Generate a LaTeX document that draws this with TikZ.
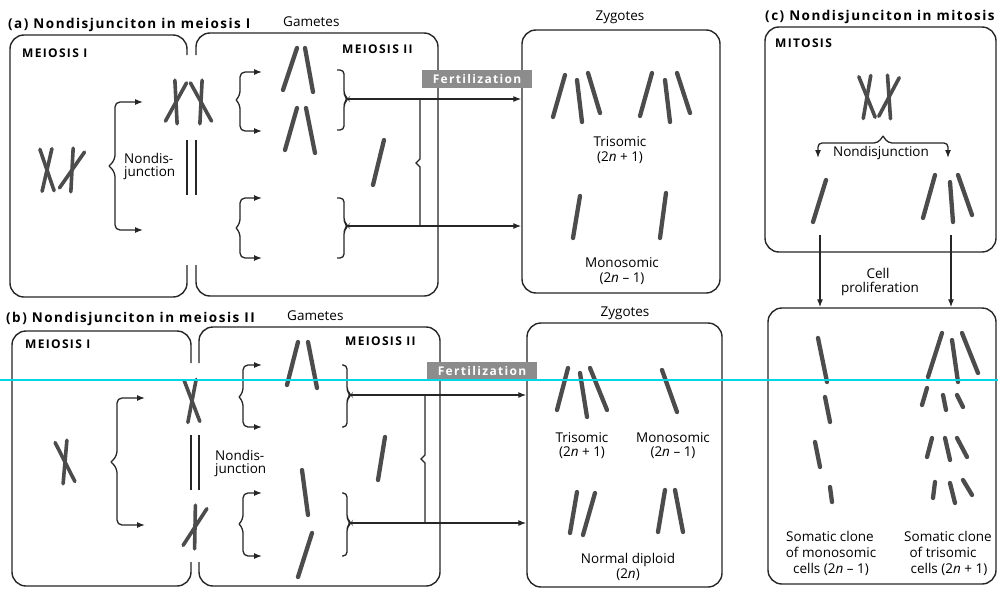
\documentclass[tikz,border=0pt]{standalone}
\usepackage{fontspec}
\setmainfont{Open Sans}
\newfontfamily\labelfont[LetterSpace=11]{Open Sans}
\usetikzlibrary{arrows.meta}

\begin{document}
\begin{tikzpicture}[x=1pt,y=-1pt,
  frame/.style={draw=black!85, line width=1.4pt, rounded corners=14pt},
  wire/.style={draw=black!85, line width=1.3pt},
  arr/.style={wire, -{Latex[length=8pt,width=6pt]}},
  rod/.style={draw=black!70, line width=4.3pt, line cap=round},
  chromatid/.style={draw=black!70, line width=3.6pt, line cap=round},
  txt/.style={font=\fontsize{13.5}{16}\selectfont, inner sep=0pt, anchor=base},
  hd/.style={font=\labelfont\bfseries\fontsize{13.5}{16}\selectfont, inner sep=0pt, anchor=base west},
  lbl/.style={font=\labelfont\bfseries\fontsize{12}{14}\selectfont, inner sep=0pt, anchor=base west},
  fert/.style={fill=black!45, text=white, font=\labelfont\bfseries\fontsize{12}{14}\selectfont,
    minimum width=110pt, minimum height=18pt, inner sep=0pt},
  xchr/.pic={\draw[chromatid] (-6,-21) -- (6,21); \draw[chromatid] (6,-21) -- (-6,21);}
]
\useasboundingbox (0,0) rectangle (998,589);
\fill[white] (0,0) rectangle (998,589);

% ---------------- (a) nondisjunction in meiosis I ----------------
\node[hd] (titleA) at (8,28) {(a) Nondisjunciton in meiosis I};
\node[txt, anchor=base west] (gamA) at (283,27) {Gametes};
\node[txt] (zygTA) at (620,20) {Zygotes};

% meiosis I / meiosis II frames, open where the cells divide
\draw[frame] (187,55) -- (187,35) -- (10,35) -- (10,297) -- (187,297) -- (187,265);
\draw[wire] (187,140) -- (187,195);
\draw[frame] (196,55) -- (196,33) -- (438,33) -- (438,296) -- (196,296) -- (196,265);
\draw[wire] (196,140) -- (196,195);
\node[lbl] (m1A) at (22,57) {MEIOSIS I};
\node[lbl] (m2A) at (342,53) {MEIOSIS II};

% zygote frame
\node[frame, minimum width=198pt, minimum height=263pt, inner sep=0pt] (zA) at (621,161.5) {};

% chromosomes before and after meiosis I
\pic[rotate=3] at (47,170) {xchr};
\pic[rotate=-19] at (72,170) {xchr};
\pic[rotate=-13] at (176,102) {xchr};
\pic[rotate=13] at (201,102) {xchr};

% meiosis I division
\draw[arr, rounded corners=5pt] (109,166) -- (115,160) -- (115,102) -- (143,102);
\draw[arr, rounded corners=5pt] (109,166) -- (115,172) -- (115,230) -- (143,230);
\node[txt, anchor=base west] (ndA1) at (124,163) {Nondis-};
\node[txt, anchor=base west] (ndA2) at (124,176) {junction};

% meiosis II divisions
\draw[arr, rounded corners=5pt] (236,100) -- (240,96) -- (240,72) -- (262,72);
\draw[arr, rounded corners=5pt] (236,100) -- (240,104) -- (240,131) -- (262,131);
\draw[arr, rounded corners=5pt] (236,228) -- (240,224) -- (240,198) -- (262,198);
\draw[arr, rounded corners=5pt] (236,228) -- (240,232) -- (240,258) -- (262,258);

% gametes
\draw[rod] (297,48) -- (283,90);  \draw[rod] (305,48) -- (313,92);
\draw[rod] (297,108) -- (285,150); \draw[rod] (306,108) -- (315,153);
\draw[rod] (384,140) -- (373,185);

% gametes gathered toward fertilization
\draw[wire, rounded corners=4pt] (337,70) -- (344,70) -- (344,95) -- (348,99) -- (344,103) -- (344,130) -- (337,130);
\draw[wire, rounded corners=4pt] (337,198) -- (344,198) -- (344,222) -- (348,226) -- (344,230) -- (344,258) -- (337,258);
\coordinate (fA1) at (348,99);
\coordinate (fA2) at (348,226);
\draw[arr] (fA1) -- (fA1 -| zA.west);
\draw[arr] (fA2) -- (fA2 -| zA.west);
\draw[wire] (420,99) -- (420,159) -- (416,163) -- (420,167) -- (420,226);
\node[fert] (fertA) at (477,79) {Fertilization};

% zygotes
\draw[rod] (565,75) -- (553,117); \draw[rod] (577,80) -- (582,122); \draw[rod] (588,73) -- (600,113);
\draw[rod] (652,73) -- (640,116); \draw[rod] (665,80) -- (670,122); \draw[rod] (677,73) -- (690,113);
\node[txt] (triA1) at (620,146) {Trisomic};
\node[txt] (triA2) at (620,161) {(2\textit{n} + 1)};
\draw[rod] (580,196) -- (573,238);
\draw[rod] (666,193) -- (660,238);
\node[txt] (monA1) at (622,267) {Monosomic};
\node[txt] (monA2) at (622,282) {(2\textit{n} \textendash{} 1)};

% ---------------- (b) nondisjunction in meiosis II ----------------
\node[hd] (titleB) at (6,322) {(b) Nondisjunciton in meiosis II};
\node[txt, anchor=base west] (gamB) at (287,320) {Gametes};
\node[txt] (zygTB) at (625,316) {Zygotes};

\draw[frame] (191,363) -- (191,331) -- (12,331) -- (12,586) -- (191,586) -- (191,562);
\draw[wire] (191,435) -- (191,490);
\draw[frame] (199,363) -- (199,327) -- (440,327) -- (440,586) -- (199,586) -- (199,562);
\draw[wire] (199,435) -- (199,490);
\node[lbl] (m1B) at (25,348) {MEIOSIS I};
\node[lbl] (m2B) at (345,345) {MEIOSIS II};

\node[frame, minimum width=195pt, minimum height=264pt, inner sep=0pt] (zB) at (624.5,455) {};

% chromosomes before and after meiosis I
\pic[rotate=11] at (65,462) {xchr};
\pic[rotate=5] at (192,401) {xchr};
\pic[rotate=-17] at (195,527) {xchr};

% meiosis I division
\draw[arr, rounded corners=5pt] (111,462) -- (117,456) -- (117,398) -- (145,398);
\draw[arr, rounded corners=5pt] (111,462) -- (117,468) -- (117,525) -- (145,525);

% meiosis II divisions
\draw[arr, rounded corners=5pt] (239,397) -- (243,393) -- (243,365) -- (262,365);
\draw[arr, rounded corners=5pt] (239,397) -- (243,401) -- (243,427) -- (262,427);
\draw[arr, rounded corners=5pt] (239,524) -- (243,520) -- (243,493) -- (262,493);
\draw[arr, rounded corners=5pt] (239,524) -- (243,528) -- (243,556) -- (262,556);
\node[txt, anchor=base west] (ndB1) at (215,460) {Nondis-};
\node[txt, anchor=base west] (ndB2) at (215,473) {junction};

% gametes
\draw[rod] (298,342) -- (287,385); \draw[rod] (308,342) -- (317,388);
\draw[rod] (302,470) -- (308,515);
\draw[rod] (312,533) -- (298,577);
\draw[rod] (385,437) -- (378,480);

% gametes gathered toward fertilization
\draw[wire, rounded corners=4pt] (342,365) -- (347,365) -- (347,391) -- (351,395) -- (347,399) -- (347,427) -- (342,427);
\draw[wire, rounded corners=4pt] (342,493) -- (347,493) -- (347,519) -- (351,523) -- (347,527) -- (347,556) -- (342,556);
\coordinate (fB1) at (351,395);
\coordinate (fB2) at (351,523);
\draw[arr] (fB1) -- (fB1 -| zB.west);
\draw[arr] (fB2) -- (fB2 -| zB.west);
\draw[wire] (425,395) -- (425,455) -- (421,459) -- (425,463) -- (425,523);
\node[fert] (fertB) at (482,371) {Fertilization};

% zygotes
\draw[rod] (568,368) -- (557,410); \draw[rod] (580,373) -- (587,417); \draw[rod] (590,368) -- (607,410);
\node[txt] (triB1) at (582,442) {Trisomic};
\node[txt] (triB2) at (582,456) {(2\textit{n} + 1)};
\draw[rod] (662,370) -- (677,412);
\node[txt] (monB1) at (673,442) {Monosomic};
\node[txt] (monB2) at (673,456) {(2\textit{n} \textendash{} 1)};
\draw[rod] (577,492) -- (570,533); \draw[rod] (595,493) -- (583,535);
\draw[rod] (665,490) -- (658,532); \draw[rod] (675,490) -- (683,532);
\node[txt] (dipB1) at (628,563) {Normal diploid};
\node[txt] (dipB2) at (628,578) {(2\textit{n})};

% ---------------- (c) nondisjunction in mitosis ----------------
\node[hd] (titleC) at (765,20) {(c) Nondisjunciton in mitosis};
\node[frame, minimum width=231pt, minimum height=225pt, inner sep=0pt] (mitA) at (880.5,139.5) {};
\node[lbl] (mitL) at (775,47) {MITOSIS};
\pic[rotate=6] at (867,97) {xchr};
\pic[rotate=-12] at (889,97) {xchr};

\draw[arr, rounded corners=4pt] (883,136) -- (878,143) -- (818,143) -- (818,158);
\draw[arr, rounded corners=4pt] (883,136) -- (888,143) -- (948,143) -- (948,158);
\node[txt] (ndC) at (881,156) {Nondisjunction};

\draw[rod] (826,180) -- (813,222);
\draw[rod] (935,175) -- (923,218); \draw[rod] (950,182) -- (953,222); \draw[rod] (958,175) -- (972,215);

\node[frame, minimum width=228pt, minimum height=276pt, inner sep=0pt] (mitB) at (882,446) {};
\coordinate (cpL) at (820,235);
\coordinate (cpR) at (951,235);
\draw[arr] (cpL) -- (cpL |- mitB.north);
\draw[arr] (cpR) -- (cpR |- mitB.north);
\node[txt] (cell1) at (878,278) {Cell};
\node[txt] (cell2) at (880,292) {proliferation};

% monosomic clone
\draw[rod] (818,338) -- (827,382);
\draw[rod] (825,397) -- (830,422);
\draw[rod] (815,442) -- (820,467);
\draw[rod] (830,487) -- (832,502);
% trisomic clone
\draw[rod] (942,333) -- (928,377); \draw[rod] (952,340) -- (958,382); \draw[rod] (962,333) -- (978,373);
\draw[rod] (927,388) -- (922,405); \draw[rod] (943,395) -- (946,410); \draw[rod] (957,395) -- (963,407);
\draw[rod] (932,438) -- (927,457); \draw[rod] (945,438) -- (950,460); \draw[rod] (957,438) -- (967,457);
\draw[rod] (935,482) -- (933,498); \draw[rod] (950,483) -- (955,503); \draw[rod] (963,480) -- (972,495);

\node[txt] (smA1) at (830,541) {Somatic clone};
\node[txt] (smA2) at (831,557) {of monosomic};
\node[txt] (smA3) at (831,573) {cells (2\textit{n} \textendash{} 1)};
\node[txt] (stA1) at (948,541) {Somatic clone};
\node[txt] (stA2) at (943,557) {of trisomic};
\node[txt] (stA3) at (949,573) {cells (2\textit{n} + 1)};

% guide line across the sheet
\draw[draw={rgb,255:red,0;green,215;blue,235}, line width=1.4pt] (0,380) -- (998,380);
\end{tikzpicture}
\end{document}
